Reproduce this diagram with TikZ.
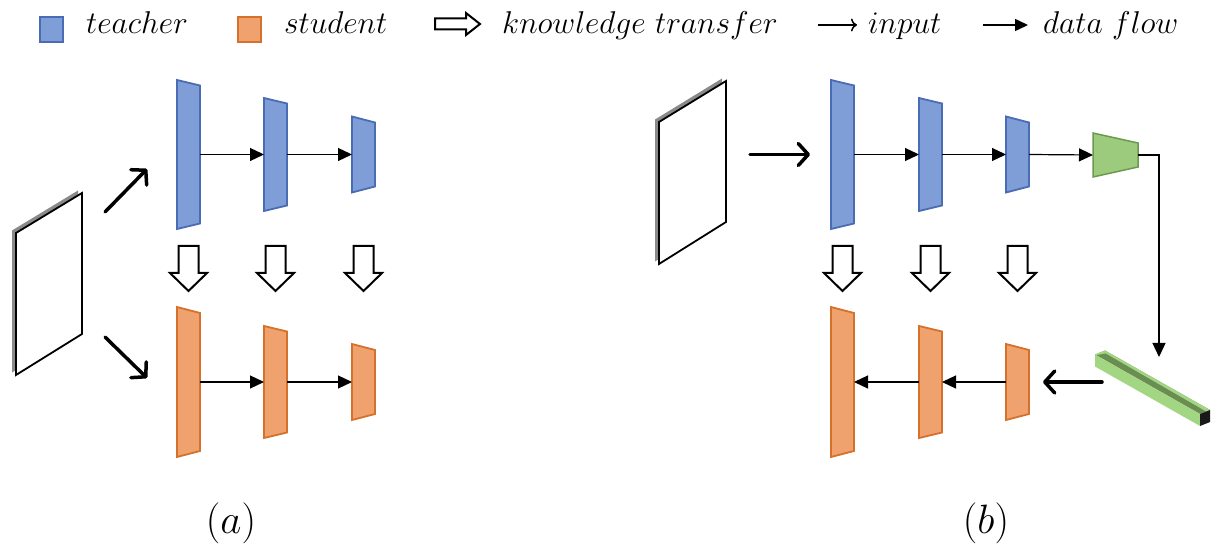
\RequirePackage{fix-cm}
\documentclass[tikz,border=0pt]{standalone}
\usetikzlibrary{arrows.meta}

\definecolor{tfill}{HTML}{7F9ED8}
\definecolor{tline}{HTML}{4A6CB5}
\definecolor{sfill}{HTML}{F0A26E}
\definecolor{sline}{HTML}{D6712B}
\definecolor{gfill}{HTML}{9DCB7D}
\definecolor{gline}{HTML}{6B9A4F}
\definecolor{barlight}{HTML}{A3D682}
\definecolor{bardark}{HTML}{6A8D52}
\definecolor{plateedge}{HTML}{8A8A8A}

\tikzset{
  teacherbox/.style={fill=tfill, draw=tline, line width=1.8pt, line join=miter},
  studentbox/.style={fill=sfill, draw=sline, line width=1.8pt, line join=miter},
  neckbox/.style={fill=gfill, draw=gline, line width=1.5pt, line join=miter},
  flow/.style={line width=1.2pt, -{Triangle[length=14pt,width=13pt]}},
  inarrow/.style={line width=3.5pt, line cap=round,
    -{Straight Barb[length=10pt,width=22pt,round]}},
  ktarrow/.style={draw=black, fill=white, line width=2pt, line join=miter},
  plate/.style={fill=white, draw=black, line width=1.8pt, line join=miter},
  platebk/.style={fill=plateedge},
  legtext/.style={font=\fontsize{31.5}{36}\selectfont, anchor=base west, inner sep=0pt},
  caption/.style={font=\fontsize{41}{45}\selectfont, anchor=base, inner sep=0pt},
  anchorbox/.style={inner sep=0pt, outer sep=0pt}
}

% one network stage: style, name, left x, width, centre y, half height left, half height right
\newcommand\layer[7]{%
  \path[#1] (#3,#5-#6) -- (#3+#4,#5-#7) -- (#3+#4,#5+#7) -- (#3,#5+#6) -- cycle;
  \node[anchorbox, minimum width=#4pt, minimum height=#7*2pt] (#2) at (#3+#4/2,#5) {};}

% thin input plate seen in perspective: x left, y top-left, x right, y top-right
\newcommand\inplate[4]{%
  \path[platebk] (#1-4,#2-2.5) -- (#3-4,#4-2.5) -- (#3-4,#4+138.5) -- (#1-4,#2+139.5) -- cycle;
  \path[plate] (#1,#2) -- (#3,#4) -- (#3,#4+141) -- (#1,#2+142) -- cycle;}

% hollow knowledge-transfer arrow pointing down, centred at x
\newcommand\ktdown[1]{%
  \path[ktarrow] (#1-10,246) -- (#1+10,246) -- (#1+10,273) -- (#1+18.5,273)
    -- (#1,291) -- (#1-18.5,273) -- (#1-10,273) -- cycle;}

\begin{document}
\begin{tikzpicture}[x=1pt,y=-1pt]
\useasboundingbox (0,0) rectangle (1213,545);

% ---------- legend ----------
\path[teacherbox, line width=1.5pt] (40,17) rectangle (63,42);
\node[legtext] (lteacher) at (86,34) {$teacher$};
\path[studentbox, line width=1.5pt] (238,17) rectangle (261,42);
\node[legtext] (lstudent) at (284,34) {$student$};
\path[ktarrow] (435,18.5) -- (466,18.5) -- (466,13) -- (480,24) -- (466,35)
  -- (466,29.5) -- (435,29.5) -- cycle;
\node[legtext] (lkt) at (502,34) {$knowledge\ transfer$};
\coordinate (linA) at (818,25);
\coordinate (linB) at (857,25);
\draw[line width=1.5pt, -{Computer Modern Rightarrow[length=6pt,width=13pt]}] (linA) -- (linB);
\node[legtext] (linput) at (868,34) {$input$};
\coordinate (lflA) at (983,25);
\coordinate (lflB) at (1028,25);
\draw[line width=1.5pt, -{Triangle[length=13pt,width=12pt]}] (lflA) -- (lflB);
\node[legtext] (lflow) at (1043,34) {$data\ flow$};

% ---------- (a) ----------
\inplate{16}{233}{82}{193}

\layer{teacherbox}{T1a}{177}{23}{154.5}{74.5}{69}
\layer{teacherbox}{T2a}{264}{23}{154.5}{56.5}{51}
\layer{teacherbox}{T3a}{352}{23}{154.5}{38}{32}
\layer{studentbox}{S1a}{177}{23}{382}{75}{69}
\layer{studentbox}{S2a}{264}{23}{382}{56}{50.5}
\layer{studentbox}{S3a}{352}{23}{382}{38}{32}

\draw[flow] (T1a.east) -- (T2a.west);
\draw[flow] (T2a.east) -- (T3a.west);
\draw[flow] (S1a.east) -- (S2a.west);
\draw[flow] (S2a.east) -- (S3a.west);

\coordinate (inUa) at (105,212);
\coordinate (inUb) at (147,169);
\coordinate (inDa) at (105,337);
\coordinate (inDb) at (147,378);
\draw[inarrow] (inUa) -- (inUb);
\draw[inarrow] (inDa) -- (inDb);

\ktdown{188.5}
\ktdown{275.5}
\ktdown{363.5}

\node[caption] (capa) at (231,533) {$(a)$};

% ---------- (b) ----------
\inplate{659}{122}{726}{81}

\layer{teacherbox}{T1b}{831}{23}{154.5}{74.5}{69}
\layer{teacherbox}{T2b}{919}{23}{154.5}{56.5}{51}
\layer{teacherbox}{T3b}{1006}{23}{154.5}{38}{32}
\layer{neckbox}{Gb}{1093}{45}{155}{22}{12}
\layer{studentbox}{S1b}{831}{23}{382}{75}{69}
\layer{studentbox}{S2b}{919}{23}{382}{56}{50.5}
\layer{studentbox}{S3b}{1006}{23}{382}{38}{32}

\coordinate (inb) at (750,154.5);
\draw[inarrow, shorten >=21pt] (inb) -- (T1b.west);

\draw[flow] (T1b.east) -- (T2b.west);
\draw[flow] (T2b.east) -- (T3b.west);
\draw[flow] (T3b.east) -- (Gb.west);

% feature bar (long square prism): end cap corners at the near end
\coordinate (bA) at (1200,414);
\coordinate (bB) at (1210,410);
\coordinate (bC) at (1210,422);
\coordinate (bD) at (1200,426);
% upper face in shade
\fill[bardark] (bA) -- (bB) -- ([shift={(-105,-59.5)}]bB) -- ([shift={(-105,-59.5)}]bA) -- cycle;
% lit front face
\fill[barlight] (bA) -- (bD) -- ([shift={(-105,-59.5)}]bD) -- ([shift={(-105,-59.5)}]bA) -- cycle;
% light back rim and left end
\fill[barlight] (bB) -- ([shift={(-105,-59.5)}]bB) -- ([shift={(-105,-57)}]bB)
  -- ([shift={(-2,2.5)}]bB) -- cycle;
\fill[barlight] ([shift={(-105,-59.5)}]bA) -- ([shift={(-105,-59.5)}]bB)
  -- ([shift={(-103,-57)}]bB) -- ([shift={(-103,-59)}]bA) -- cycle;
% end cap
\fill[black!90] (bA) -- (bB) -- (bC) -- (bD) -- cycle;

\coordinate (barTop) at (1159,357);
\coordinate (barIn) at (1102,382);
\draw[flow] (Gb.east) -| (barTop);
\draw[inarrow, shorten >=14pt] (barIn) -- (S3b.east);

\draw[flow] (S3b.west) -- (S2b.east);
\draw[flow] (S2b.west) -- (S1b.east);

\ktdown{842.5}
\ktdown{930.5}
\ktdown{1017.5}

\node[caption] (capb) at (986,533) {$(b)$};
\end{tikzpicture}
\end{document}
